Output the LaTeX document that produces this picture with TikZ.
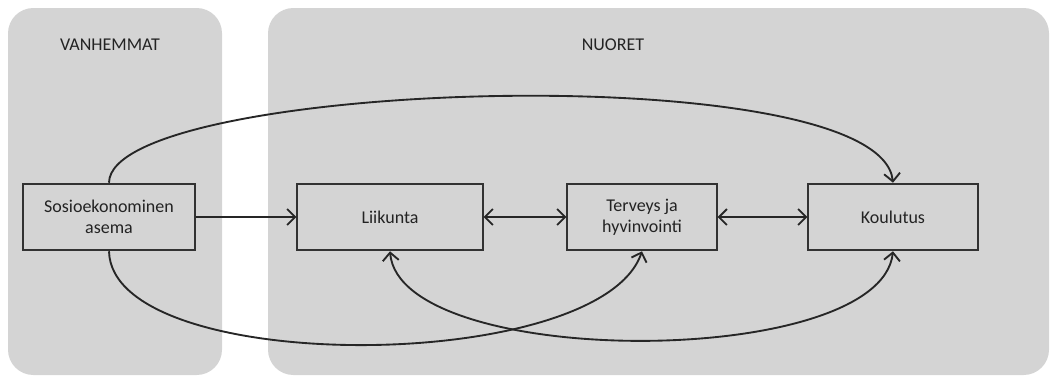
\documentclass[tikz,border=0pt]{standalone}
\usepackage{fontspec}
\setmainfont{Carlito}
\usepackage{tikz}
\usetikzlibrary{arrows, arrows.meta, positioning, calc}
\definecolor{panelgray}{RGB}{212, 212, 212}
\definecolor{boxline}{RGB}{50, 50, 50}
\definecolor{textgray}{RGB}{35, 35, 35}

\begin{document}
\begin{tikzpicture}[x=0.75pt, y=0.75pt,
    panel/.style={fill=panelgray, draw=none, rounded corners=19pt},
    var/.style={draw=boxline, line width=1.4pt, minimum height=50pt, align=center, text=textgray, font=\fontsize{13.5}{15.5}\selectfont},
    title/.style={text=textgray, font=\fontsize{13.5}{15.5}\selectfont},
    link/.style={line width=1.4pt, draw=black!85, >={Straight Barb[length=6pt, width=12pt, line width=1.4pt]}}
]
\useasboundingbox (0,0) rectangle (1050,380);
\fill[panel] (8,5) rectangle (222,372);
\fill[panel] (268,5) rectangle (1049,372);

\node[title] (parents) at (110,335) {VANHEMMAT};
\node[title] (youth) at (613,335) {NUORET};

\node[var, minimum width=129pt] (ses) at (109,163) {Sosioekonominen\\asema};
\node[var, minimum width=139pt] (sport) at (390,163) {Liikunta};
\node[var, minimum width=112pt] (health) at (642,163) {Terveys ja\\hyvinvointi};
\node[var, minimum width=127pt] (school) at (893,163) {Koulutus};

\draw[link, ->] (ses) -- (sport);
\draw[link, <->] (sport) -- (health);
\draw[link, <->] (health) -- (school);
\draw[link, ->] (ses.north) .. controls (110,300) and (880,325) .. (school.north);
\draw[link, ->] (ses.south) .. controls (112,3) and (600,5) .. (health.south);
\draw[link, <->] (sport.south) .. controls (400,10) and (880,10) .. (school.south);
\end{tikzpicture}
\end{document}
